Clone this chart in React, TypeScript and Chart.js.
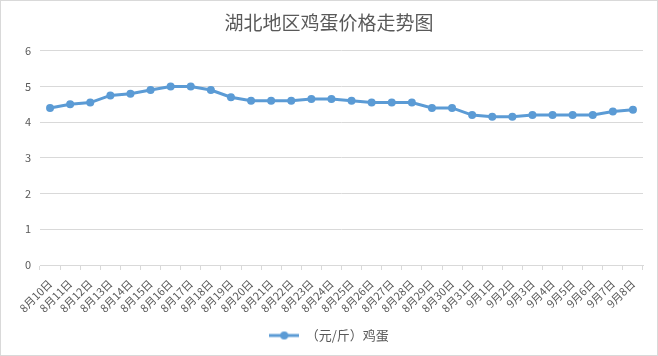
import React, { useEffect, useRef } from "react";
import { Chart, registerables } from "chart.js";

Chart.register(...registerables);

const TITLE = "湖北地区鸡蛋价格走势图";
const SERIES_LABEL = "（元/斤）鸡蛋";
const categories = [
  "8月10日", "8月11日", "8月12日", "8月13日", "8月14日", "8月15日", "8月16日", "8月17日",
  "8月18日", "8月19日", "8月20日", "8月21日", "8月22日", "8月23日", "8月24日", "8月25日",
  "8月26日", "8月27日", "8月28日", "8月29日", "8月30日", "8月31日", "9月1日", "9月2日",
  "9月3日", "9月4日", "9月5日", "9月6日", "9月7日", "9月8日",
];
const prices = [
  4.4, 4.5, 4.55, 4.75, 4.8, 4.9, 5.0, 5.0, 4.9, 4.7, 4.6, 4.6, 4.6, 4.65, 4.65, 4.6,
  4.55, 4.55, 4.55, 4.4, 4.4, 4.2, 4.15, 4.15, 4.2, 4.2, 4.2, 4.2, 4.3, 4.35,
];
const yMin = 0;
const yMax = 6;

const LINE = "#5b9bd5";
const TEXT = "#595959";
const GRID = "#d9d9d9";
const FONT = "'Noto Sans CJK SC', sans-serif";

function legendIcon(): HTMLCanvasElement {
  const c = document.createElement("canvas");
  c.width = 30;
  c.height = 10;
  const ctx = c.getContext("2d")!;
  ctx.strokeStyle = LINE;
  ctx.lineWidth = 3;
  ctx.beginPath();
  ctx.moveTo(0, 5);
  ctx.lineTo(30, 5);
  ctx.stroke();
  ctx.fillStyle = LINE;
  ctx.beginPath();
  ctx.arc(15, 5, 4, 0, Math.PI * 2);
  ctx.fill();
  return c;
}

export default function App() {
  const ref = useRef<HTMLCanvasElement | null>(null);
  useEffect(() => {
    if (!ref.current) return;
    const icon = legendIcon();
    const chart = new Chart(ref.current, {
      type: "line",
      data: {
        labels: categories,
        datasets: [
          {
            label: SERIES_LABEL,
            data: prices,
            borderColor: LINE,
            backgroundColor: LINE,
            borderWidth: 3,
            pointRadius: 4,
            pointHoverRadius: 4,
            pointBackgroundColor: LINE,
            pointBorderWidth: 0,
            tension: 0,
            pointStyle: "circle",
          },
        ],
      },
      options: {
        animation: false,
        responsive: false,
        maintainAspectRatio: false,
        layout: { padding: { left: 14, right: 14, top: 0, bottom: 3 } },
        plugins: {
          title: {
            display: true,
            text: TITLE,
            color: TEXT,
            font: { family: FONT, size: 19, weight: "normal" },
            padding: { top: 10, bottom: 17 },
          },
          legend: {
            position: "bottom",
            labels: {
              color: TEXT,
              font: { family: FONT, size: 13 },
              usePointStyle: true,
              pointStyleWidth: 30,
              padding: 10,
              generateLabels: () => [
                {
                  text: SERIES_LABEL,
                  fillStyle: LINE,
                  strokeStyle: LINE,
                  lineWidth: 0,
                  pointStyle: icon,
                  hidden: false,
                  datasetIndex: 0,
                  fontColor: TEXT,
                },
              ],
            },
          },
          tooltip: { enabled: false },
        },
        scales: {
          x: {
            offset: true,
            grid: {
              display: true,
              drawOnChartArea: false,
              drawTicks: true,
              tickLength: 5,
              color: GRID,
              offset: true,
            },
            border: { display: true, color: GRID, width: 1 },
            ticks: {
              color: TEXT,
              font: { family: FONT, size: 11 },
              minRotation: 45,
              maxRotation: 45,
              autoSkip: false,
              padding: 7,
            },
            afterFit: (s: any) => {
              s.height = 54;
            },
          },
          y: {
            min: yMin,
            max: yMax,
            ticks: {
              stepSize: 1,
              color: TEXT,
              font: { family: FONT, size: 11 },
              padding: 9,
            },
            grid: { color: GRID, drawTicks: false },
            border: { display: false },
            afterFit: (s: any) => {
              s.width = 25;
            },
          },
        },
      },
    });
    return () => chart.destroy();
  }, []);
  return (
    <div
      style={{
        position: "fixed",
        left: 0,
        top: 0,
        width: 658,
        height: 356,
        boxSizing: "border-box",
        border: "1px solid #d9d9d9",
        background: "#fff",
      }}
    >
      <canvas ref={ref} width={656} height={354} style={{ display: "block", width: 656, height: 354 }} />
    </div>
  );
}
